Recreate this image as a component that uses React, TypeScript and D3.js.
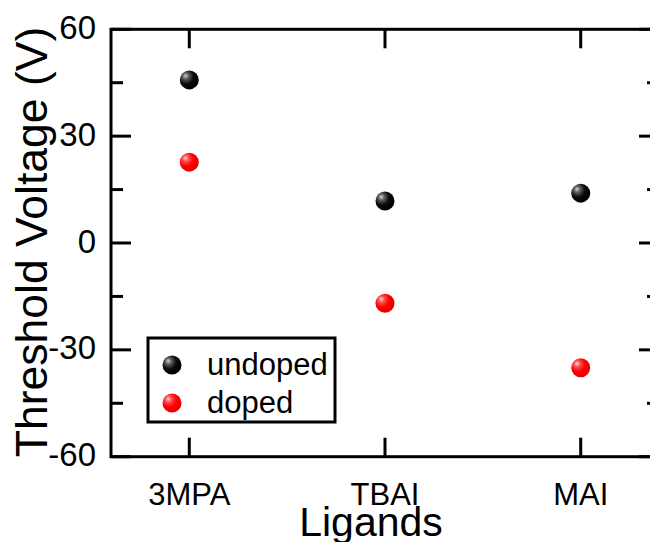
import React from "react";
import * as d3 from "d3";

const categories = ["3MPA", "TBAI", "MAI"];
const undoped = [45.8, 11.8, 14.0];
const doped = [22.7, -16.9, -35.0];
const yMajorTicks = [-60, -30, 0, 30, 60];
const yMinorTicks = [-45, -15, 15, 45];
const seriesNames = ["undoped", "doped"];

const W = 650;
const H = 542;
const left = 111;
const right = 659;
const top = 29.3;
const bottom = 456.7;
const FONT = "Arial, 'Liberation Sans', Helvetica, sans-serif";

export default function App() {
  const x = d3.scaleLinear().domain([0.6, 3.4]).range([left, right]);
  const y = d3.scaleLinear().domain([-60, 60]).range([bottom, top]);
  const r = 9.5;

  const sphere = (cx: number, cy: number, fill: string, key: string) => (
    <circle key={key} cx={cx} cy={cy} r={r} fill={`url(#${fill})`} />
  );

  return (
    <svg
      width={W}
      height={H}
      style={{ position: "absolute", left: 0, top: 0, display: "block" }}
      fontFamily={FONT}
    >
      <defs>
        <radialGradient id="gBlack" cx="0.35" cy="0.35" r="0.65" fx="0.3" fy="0.28">
          <stop offset="0" stopColor="#d0d0d0" />
          <stop offset="0.25" stopColor="#606060" />
          <stop offset="0.6" stopColor="#0a0a0a" />
          <stop offset="1" stopColor="#000000" />
        </radialGradient>
        <radialGradient id="gRed" cx="0.35" cy="0.35" r="0.65" fx="0.3" fy="0.28">
          <stop offset="0" stopColor="#ffd8d8" />
          <stop offset="0.25" stopColor="#ff5050" />
          <stop offset="0.6" stopColor="#ff0000" />
          <stop offset="1" stopColor="#e80000" />
        </radialGradient>
      </defs>
      <rect width={W} height={H} fill="#fff" />

      {/* frame */}
      <rect
        x={left}
        y={top}
        width={right - left}
        height={bottom - top}
        fill="none"
        stroke="#000"
        strokeWidth={3}
      />

      {/* y ticks left & right */}
      {yMajorTicks.map((t) => (
        <g key={"M" + t}>
          <line x1={left} x2={left + 20} y1={y(t)} y2={y(t)} stroke="#000" strokeWidth={3} />
          <line x1={right} x2={right - 20} y1={y(t)} y2={y(t)} stroke="#000" strokeWidth={3} />
          <text x={96} y={y(t) + 9.5} textAnchor="end" fontSize={33} fill="#000">
            {t}
          </text>
        </g>
      ))}
      {yMinorTicks.map((t) => (
        <g key={"m" + t}>
          <line x1={left} x2={left + 12} y1={y(t)} y2={y(t)} stroke="#000" strokeWidth={3} />
          <line x1={right} x2={right - 12} y1={y(t)} y2={y(t)} stroke="#000" strokeWidth={3} />
        </g>
      ))}

      {/* x ticks top & bottom */}
      {categories.map((c, i) => (
        <g key={c}>
          <line x1={x(i + 1)} x2={x(i + 1)} y1={bottom} y2={bottom - 19} stroke="#000" strokeWidth={3} />
          <line x1={x(i + 1)} x2={x(i + 1)} y1={top} y2={top + 19} stroke="#000" strokeWidth={3} />
          <text x={x(i + 1)} y={505} textAnchor="middle" fontSize={31} fill="#000">
            {c}
          </text>
        </g>
      ))}

      {/* data */}
      {undoped.map((v, i) => sphere(x(i + 1), y(v), "gBlack", "u" + i))}
      {doped.map((v, i) => sphere(x(i + 1), y(v), "gRed", "d" + i))}

      {/* legend */}
      <rect x={148} y={338} width={187} height={84} fill="#fff" stroke="#000" strokeWidth={3} />
      {sphere(172, 365, "gBlack", "lu")}
      {sphere(172, 403, "gRed", "ld")}
      <text x={207} y={375} fontSize={31} fill="#000">
        {seriesNames[0]}
      </text>
      <text x={207} y={413} fontSize={31} fill="#000">
        {seriesNames[1]}
      </text>

      {/* axis titles */}
      <text x={371} y={536} textAnchor="middle" fontSize={41} fill="#000">
        Ligands
      </text>
      <text
        transform={`translate(47, 242) rotate(-90)`}
        textAnchor="middle"
        fontSize={44.5}
        fill="#000"
      >
        Threshold Voltage (V)
      </text>
    </svg>
  );
}
